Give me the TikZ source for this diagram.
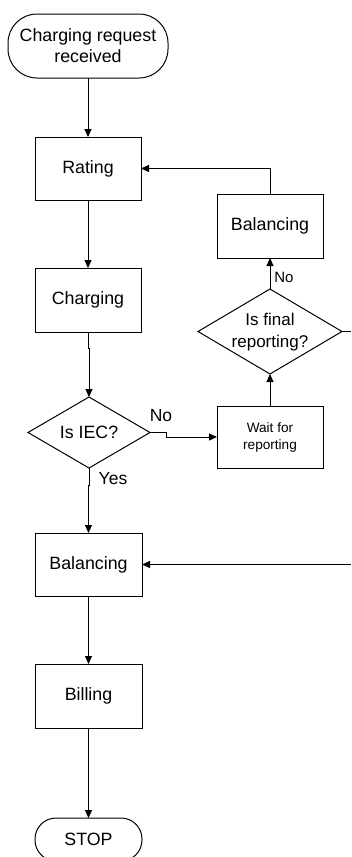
\documentclass[tikz,border=0pt]{standalone}
\usepackage{fontspec}
\setmainfont{Liberation Sans}
\usetikzlibrary{shapes.geometric,arrows.meta}

\begin{document}
\begin{tikzpicture}[x=1pt,y=-1pt,
  every node/.style={inner sep=0pt, outer sep=0pt},
  txtbig/.style={font=\fontsize{17.8}{21}\selectfont},
  box/.style={draw, rectangle, line width=1pt, minimum width=106pt,
    minimum height=63pt, align=center, txtbig},
  term/.style={box, minimum height=64pt, rounded corners=29pt},
  dia/.style={draw, diamond, line width=1pt},
  lbl/.style={font=\fontsize{17.5}{21}\selectfont, anchor=center},
  flow/.style={line width=1pt, -{Triangle[length=8pt,width=7pt]}},
  plain/.style={line width=1pt}
]
\useasboundingbox (0,0) rectangle (351,857);
\clip (0,0) rectangle (351,857);

% main column
\node[term, minimum width=160pt] (start) at (88,46) {Charging request\\received};
\node[box] (rating) at (88,168.5) {Rating};
\node[box, minimum height=64pt] (charging) at (88,300) {Charging};
\node[dia, minimum width=122pt, minimum height=71pt] (iec) at (89,432.5) {};
\node[txtbig] (iectext) at (iec) {Is IEC?};
\node[box, minimum width=107pt] (bal2) at (88.5,564.5) {Balancing};
\node[box, minimum width=107pt, minimum height=64pt] (billing) at (88.5,696) {Billing};
\node[term, minimum width=107pt, minimum height=43pt, rounded corners=21pt] (stop) at (88.5,839.5) {STOP};

% right-hand loop
\node[box, minimum height=64pt] (baltop) at (270,226) {Balancing};
\node[dia, minimum width=144pt, minimum height=85pt] (final) at (270,331.5) {};
\node[align=center, font=\fontsize{17}{22}\selectfont] (finaltext) at (270,332) {Is final\\reporting?};
\node[box, minimum height=62pt, font=\fontsize{13.6}{17}\selectfont] (wait) at (270,437) {Wait for\\reporting};

\coordinate (outA) at (351,331.5);
\coordinate (outB) at (351,564.5);

% connectors
\draw[flow] (start.south) -- (rating.north);
\draw[flow] (rating.south) -- (charging.north);
\draw[flow] (charging.south) -- ++(0,16) -| (iec.north);
\draw[flow] (iec.east) -- ++(16,0) |- (wait.west);
\draw[flow] (iec.south) -- ++(0,17) -| (bal2.north);
\draw[flow] (wait.north) -- (final.south);
\draw[flow] (final.north) -- (baltop.south);
\draw[flow] (baltop.north) |- (rating.east);
\draw[plain] (final.east) -- (outA);
\draw[flow] (outB) -- (bal2.east);
\draw[flow] (bal2.south) -- (billing.north);
\draw[flow] (billing.south) -- (stop.north);

% branch labels
\node[lbl] (lno) at (161,416) {No};
\node[lbl] (lyes) at (113,479) {Yes};
\node[font=\fontsize{15}{18}\selectfont] (lno2) at (284,277.5) {No};
\end{tikzpicture}
\end{document}
